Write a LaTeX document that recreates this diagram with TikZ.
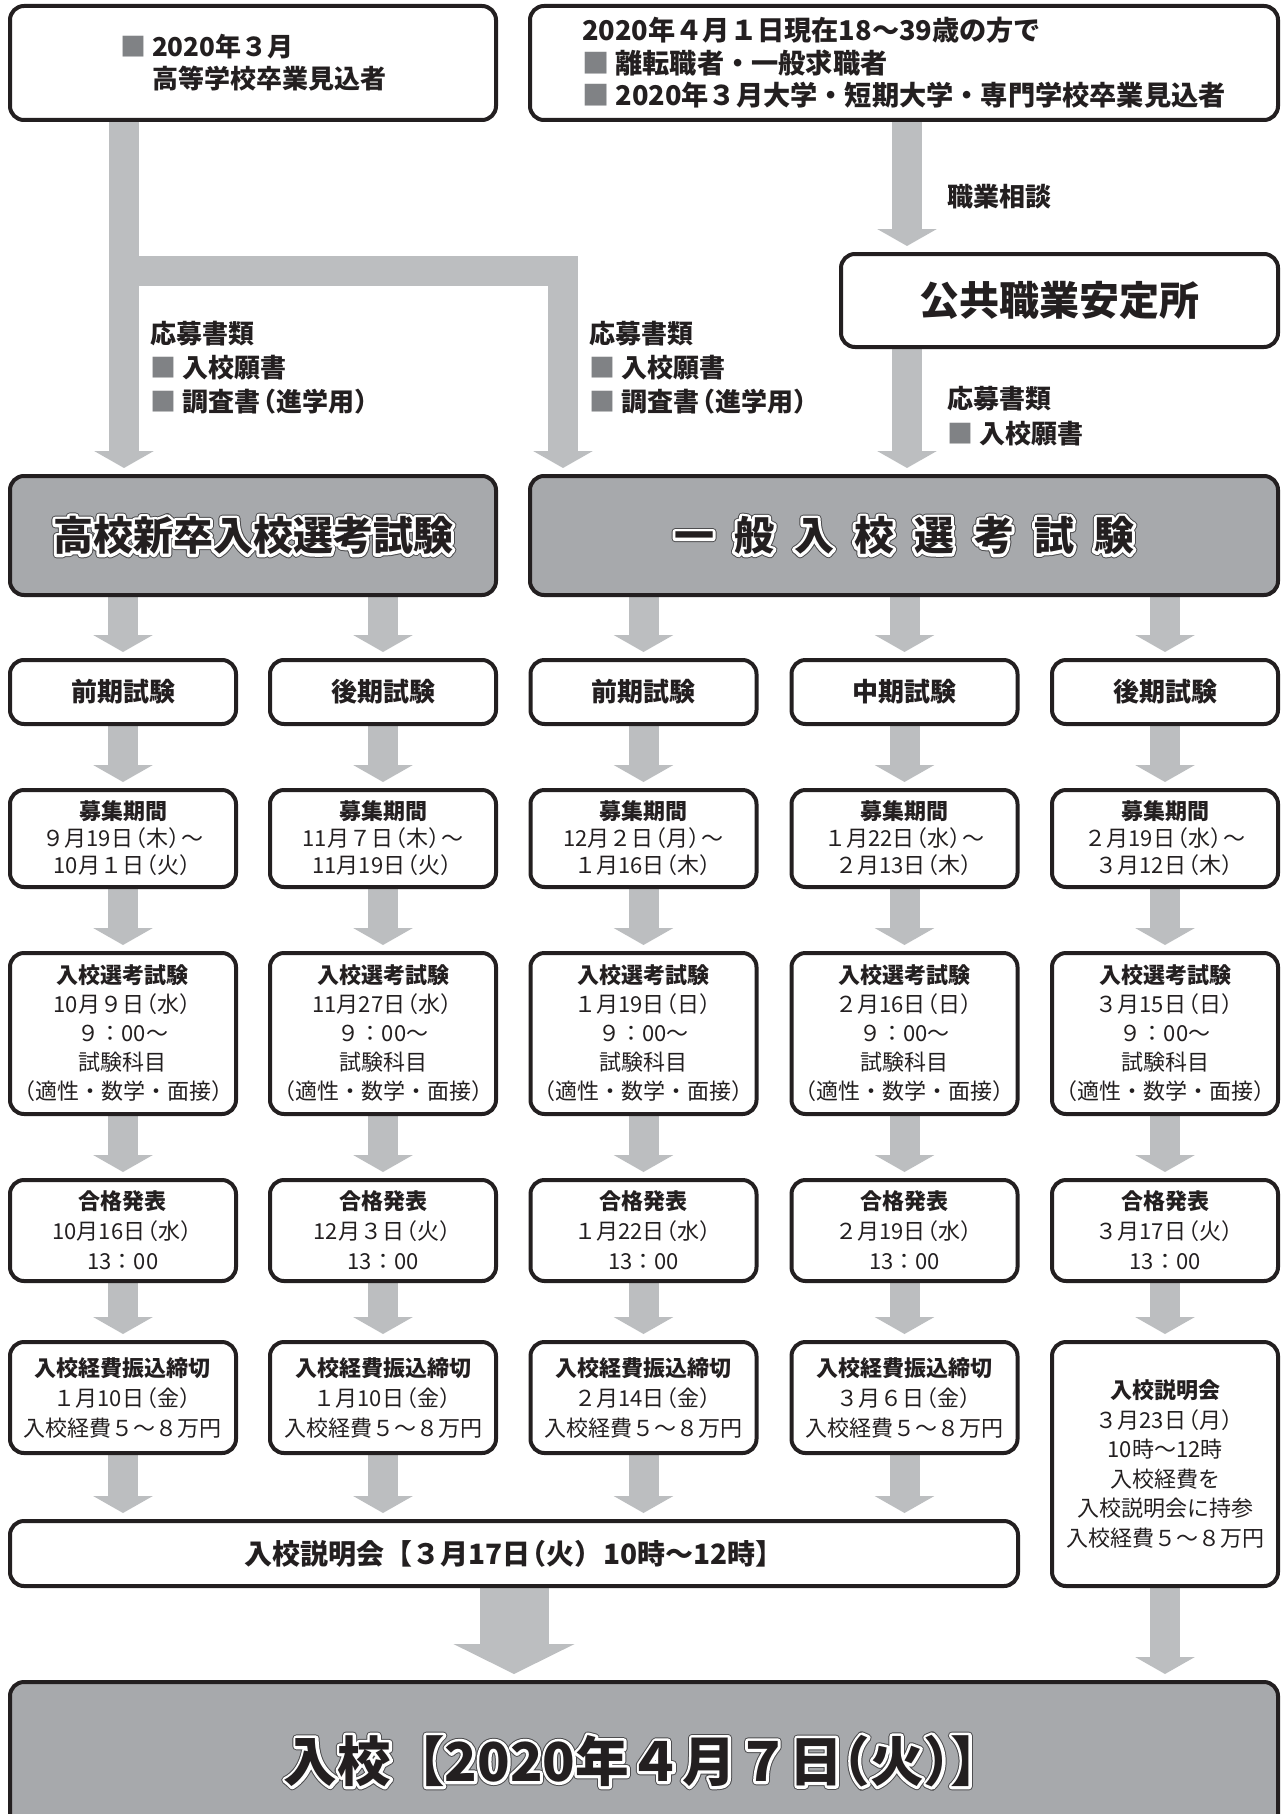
\documentclass[tikz,border=0pt]{standalone}
\usepackage{fontspec}
\setmainfont{Noto Sans CJK JP}
\usetikzlibrary{arrows.meta}
\definecolor{ink}{HTML}{231F20}
\definecolor{arrgray}{HTML}{BCBEC0}
\definecolor{boxgray}{HTML}{A7A9AC}
\definecolor{bulgray}{HTML}{808285}
\definecolor{ring}{HTML}{4D4D4F}
\pgfdeclarelayer{bg}
\pgfsetlayers{bg,main}
\newcommand{\bul}{\textcolor{bulgray}{■}\hspace{3pt}}
\newcommand{\hd}[1]{{\bfseries #1}}
\newcommand{\lp}{\kern-0.4em（}
\newcommand{\rp}{）\kern-0.4em}
\newcommand{\outl}[1]{\rlap{\special{pdf:literal direct 1 Tr 3.9 w 1 J 1 j}\textcolor{ring}{#1}\special{pdf:literal direct 0 Tr 0.4 w 0 J 0 j}}\rlap{\special{pdf:literal direct 1 Tr 2.9 w 1 J 1 j}\textcolor{white}{#1}\special{pdf:literal direct 0 Tr 0.4 w 0 J 0 j}}#1}
\tikzset{
  box/.style={draw=ink, line width=2pt, rounded corners=7pt, fill=white, text=ink, align=center, inner sep=0pt},
  graybox/.style={box, fill=boxgray},
  colbox/.style={box, minimum width=113pt},
  fs/.style={font=\fontsize{11pt}{#1}\selectfont},
  flow/.style={draw=arrgray, line width=15pt, -{Triangle[width=29.5pt,length=8.5pt]}, shorten >=3pt},
  bigflow/.style={draw=arrgray, line width=34.5pt, -{Triangle[width=60pt,length=15pt]}, shorten >=3pt},
  lbl/.style={anchor=west, align=left, text=ink, inner sep=0pt, font=\bfseries\fontsize{13pt}{17pt}\selectfont},
}
\begin{document}
\begin{tikzpicture}[x=0.5pt,y=-0.5pt]
\useasboundingbox (0,0) rectangle (1288,1814);
% top boxes
\node[box, minimum width=243pt, minimum height=57pt, align=left, font=\bfseries\fontsize{13pt}{16pt}\selectfont] (tl) at (253,63) {\bul 2020年３月\\\phantom{\bul}高等学校卒業見込者};
\node[box, minimum width=374pt, minimum height=57pt, align=left, font=\bfseries\fontsize{13.6pt}{16.2pt}\selectfont] (tr) at (904,63) {2020年４月１日現在18〜39歳の方で\\\bul 離転職者・一般求職者\\\bul 2020年３月大学・短期大学・専門学校卒業見込者};
\node[box, minimum width=218.5pt, minimum height=46.5pt, font=\bfseries\fontsize{20pt}{24pt}\selectfont] (ank) at (1059.5,300.5) {公共職業安定所};
\node[graybox, minimum width=243pt, minimum height=59.5pt, font=\bfseries\fontsize{20pt}{24pt}\selectfont] (koko) at (253,535.5) {\outl{高校新卒入校選考試験}};
\node[graybox, minimum width=374pt, minimum height=59.5pt, font=\bfseries\fontsize{20pt}{24pt}\selectfont] (ippan) at (904,535.5) {\outl{一\hspace{10pt}般\hspace{10pt}入\hspace{10pt}校\hspace{10pt}選\hspace{10pt}考\hspace{10pt}試\hspace{10pt}験}};
% labels
\node[lbl] (lsoudan) at (947,197) {職業相談};
\node[lbl] (lapp1) at (150,368) {応募書類\\\bul 入校願書\\\bul 調査書\lp 進学用\rp};
\node[lbl] (lapp2) at (589,368) {応募書類\\\bul 入校願書\\\bul 調査書\lp 進学用\rp};
\node[lbl, font=\bfseries\fontsize{13pt}{17.5pt}\selectfont] (lapp3) at (947,416.5) {応募書類\\\bul 入校願書};
% row A
\node[colbox, minimum height=32pt, font=\bfseries\fontsize{13pt}{16pt}\selectfont] (a1) at (123,692) {前期試験};
\node[colbox, minimum height=32pt, font=\bfseries\fontsize{13pt}{16pt}\selectfont] (a2) at (383,692) {後期試験};
\node[colbox, minimum height=32pt, font=\bfseries\fontsize{13pt}{16pt}\selectfont] (a3) at (643.5,692) {前期試験};
\node[colbox, minimum height=32pt, font=\bfseries\fontsize{13pt}{16pt}\selectfont] (a4) at (904.5,692) {中期試験};
\node[colbox, minimum height=32pt, font=\bfseries\fontsize{13pt}{16pt}\selectfont] (a5) at (1165,692) {後期試験};
% row B
\node[colbox, minimum height=48.5pt, fs=13.5pt] (b1) at (123,838.5) {\hd{募集期間}\\９月19日\lp 木\rp〜\\10月１日\lp 火\rp};
\node[colbox, minimum height=48.5pt, fs=13.5pt] (b2) at (383,838.5) {\hd{募集期間}\\11月７日\lp 木\rp〜\\11月19日\lp 火\rp};
\node[colbox, minimum height=48.5pt, fs=13.5pt] (b3) at (643.5,838.5) {\hd{募集期間}\\12月２日\lp 月\rp〜\\１月16日\lp 木\rp};
\node[colbox, minimum height=48.5pt, fs=13.5pt] (b4) at (904.5,838.5) {\hd{募集期間}\\１月22日\lp 水\rp〜\\２月13日\lp 木\rp};
\node[colbox, minimum height=48.5pt, fs=13.5pt] (b5) at (1165,838.5) {\hd{募集期間}\\２月19日\lp 水\rp〜\\３月12日\lp 木\rp};
% row C
\node[colbox, minimum height=80.5pt, fs=14.5pt] (c1) at (123,1033.5) {\hd{入校選考試験}\\10月９日\lp 水\rp\\９：00〜\\試験科目\\\lp 適性・数学・面接\rp};
\node[colbox, minimum height=80.5pt, fs=14.5pt] (c2) at (383,1033.5) {\hd{入校選考試験}\\11月27日\lp 水\rp\\９：00〜\\試験科目\\\lp 適性・数学・面接\rp};
\node[colbox, minimum height=80.5pt, fs=14.5pt] (c3) at (643.5,1033.5) {\hd{入校選考試験}\\１月19日\lp 日\rp\\９：00〜\\試験科目\\\lp 適性・数学・面接\rp};
\node[colbox, minimum height=80.5pt, fs=14.5pt] (c4) at (904.5,1033.5) {\hd{入校選考試験}\\２月16日\lp 日\rp\\９：00〜\\試験科目\\\lp 適性・数学・面接\rp};
\node[colbox, minimum height=80.5pt, fs=14.5pt] (c5) at (1165,1033.5) {\hd{入校選考試験}\\３月15日\lp 日\rp\\９：00〜\\試験科目\\\lp 適性・数学・面接\rp};
% row D
\node[colbox, minimum height=50.5pt, fs=15pt] (d1) at (123,1230.5) {\hd{合格発表}\\10月16日\lp 水\rp\\13：00};
\node[colbox, minimum height=50.5pt, fs=15pt] (d2) at (383,1230.5) {\hd{合格発表}\\12月３日\lp 火\rp\\13：00};
\node[colbox, minimum height=50.5pt, fs=15pt] (d3) at (643.5,1230.5) {\hd{合格発表}\\１月22日\lp 水\rp\\13：00};
\node[colbox, minimum height=50.5pt, fs=15pt] (d4) at (904.5,1230.5) {\hd{合格発表}\\２月19日\lp 水\rp\\13：00};
\node[colbox, minimum height=50.5pt, fs=15pt] (d5) at (1165,1230.5) {\hd{合格発表}\\３月17日\lp 火\rp\\13：00};
% row E
\node[colbox, minimum height=55.5pt, fs=15pt] (e1) at (123,1397.5) {\hd{入校経費振込締切}\\１月10日\lp 金\rp\\入校経費５〜８万円};
\node[colbox, minimum height=55.5pt, fs=15pt] (e2) at (383,1397.5) {\hd{入校経費振込締切}\\１月10日\lp 金\rp\\入校経費５〜８万円};
\node[colbox, minimum height=55.5pt, fs=15pt] (e3) at (643.5,1397.5) {\hd{入校経費振込締切}\\２月14日\lp 金\rp\\入校経費５〜８万円};
\node[colbox, minimum height=55.5pt, fs=15pt] (e4) at (904.5,1397.5) {\hd{入校経費振込締切}\\３月６日\lp 金\rp\\入校経費５〜８万円};
\node[colbox, minimum height=122pt, fs=14.8pt] (e5) at (1165,1464) {\hd{入校説明会}\\３月23日\lp 月\rp\\10時〜12時\\入校経費を\\入校説明会に持参\\入校経費５〜８万円};
% wide and final
\node[box, minimum width=504pt, minimum height=32.5pt, font=\bfseries\fontsize{14pt}{17pt}\selectfont] (wide) at (514,1553.5) {入校説明会【３月17日\lp 火\rp\hspace{6pt}10時〜12時】};
\begin{scope}
\clip (0,0) rectangle (1288,1814);
\node[graybox, minimum width=634pt, minimum height=79pt, font=\bfseries\fontsize{26.8pt}{32pt}\selectfont] (final) at (644,1761) {\outl{入校【2020年４月７日\kern-0.5em（火）\kern-0.5em】}};
\end{scope}
% connectors
\coordinate (cA) at (124,0);
\coordinate (cM) at (563,0);
\coordinate (cR) at (907,0);
\coordinate (jn) at (124,270.5);
\begin{pgfonlayer}{bg}
\draw[flow] (tl.south -| cA) -- (koko.north -| cA);
\draw[flow] (jn) -| (ippan.north -| cM);
\draw[flow] (tr.south -| cR) -- (ank.north -| cR);
\draw[flow] (ank.south -| cR) -- (ippan.north -| cR);
\draw[flow] (koko.south -| a1) -- (a1.north);
\draw[flow] (koko.south -| a2) -- (a2.north);
\draw[flow] (ippan.south -| a3) -- (a3.north);
\draw[flow] (ippan.south -| a4) -- (a4.north);
\draw[flow] (ippan.south -| a5) -- (a5.north);
\foreach \i in {1,...,5}{
  \draw[flow] (a\i.south) -- (b\i.north);
  \draw[flow] (b\i.south) -- (c\i.north);
  \draw[flow] (c\i.south) -- (d\i.north);
  \draw[flow] (d\i.south) -- (e\i.north);
}
\foreach \i in {1,...,4}{
  \draw[flow] (e\i.south) -- (e\i.south |- wide.north);
}
\draw[flow] (e5.south) -- (e5.south |- final.north);
\draw[bigflow] (wide.south) -- (wide.south |- final.north);
\end{pgfonlayer}
\end{tikzpicture}
\end{document}
